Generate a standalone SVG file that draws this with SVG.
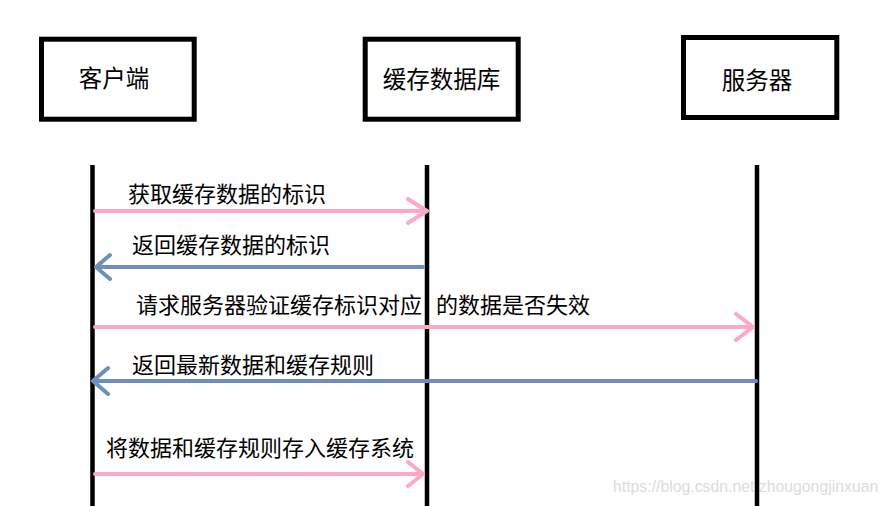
<svg xmlns="http://www.w3.org/2000/svg" width="890" height="506" viewBox="0 0 890 506">
<style>
.box{fill:#fff;stroke:#000;stroke-width:5}
.life{stroke:#000;stroke-width:4.5}
.lbl{font-family:"Noto Sans CJK SC","Liberation Sans",sans-serif;font-size:23.5px;fill:#000;dominant-baseline:central}
.msg{font-family:"Noto Sans CJK SC","Liberation Sans",sans-serif;font-size:22px;fill:#000;dominant-baseline:central}
.pink{stroke:#FFA8C6;stroke-width:4;fill:none;stroke-linecap:round;stroke-linejoin:round}
.blue{stroke:#6E8FBE;stroke-width:4;fill:none;stroke-linecap:round;stroke-linejoin:round}
.wm{font-family:"Liberation Sans",Arial,sans-serif;font-size:15.8px;fill:#dcdcdc}
</style>
<rect width="890" height="506" fill="#fff"/>
<text class="wm" x="613" y="492">https://blog.csdn.net/zhougongjinxuan</text>
<g id="client">
<rect class="box" x="41.5" y="39.2" width="152.7" height="80"/>
<text class="lbl" x="114" y="76.5" text-anchor="middle">客户端</text>
<line class="life" x1="92.5" y1="165" x2="92.5" y2="506"/>
</g>
<g id="cache">
<rect class="box" x="365.2" y="39.2" width="153" height="80"/>
<text class="lbl" x="441.5" y="78" text-anchor="middle">缓存数据库</text>
<line class="life" x1="427" y1="165" x2="427" y2="506"/>
</g>
<g id="server">
<rect class="box" x="683.5" y="37.5" width="153.3" height="80"/>
<text class="lbl" x="757" y="78.5" text-anchor="middle">服务器</text>
<line class="life" x1="757" y1="165" x2="757" y2="506"/>
</g>
<g id="connectors">
<path class="pink" d="M95 211 H427 M408 199 L427 211 L408 223"/>
<text class="msg" x="128" y="192">获取缓存数据的标识</text>
<path class="blue" d="M423 267 H96 M110 255 L96 267 L110 279"/>
<text class="msg" x="132" y="243">返回缓存数据的标识</text>
<path class="pink" d="M95 327 H753 M736 314 L753 327 L736 340"/>
<text class="msg" x="136" y="303">请求服务器验证缓存标识对应</text>
<text class="msg" x="436" y="303">的数据是否失效</text>
<path class="blue" d="M756 381 H93 M108 368 L93 381 L108 394"/>
<text class="msg" x="132" y="363">返回最新数据和缓存规则</text>
<path class="pink" d="M95 474 H423 M408 462 L423 474 L408 486"/>
<text class="msg" x="106" y="446">将数据和缓存规则存入缓存系统</text>
</g>
</svg>
